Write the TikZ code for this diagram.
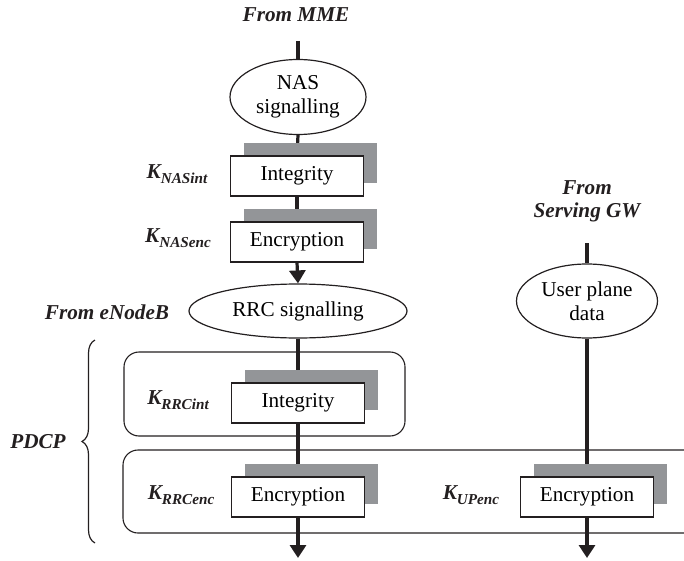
\documentclass[tikz,border=0pt]{standalone}
\usepackage{fontspec}
\setmainfont{Liberation Serif}
\usetikzlibrary{shapes.geometric,arrows.meta,shadows,decorations.pathreplacing,backgrounds}
\definecolor{shadowgray}{RGB}{147,149,152}
\definecolor{ink}{RGB}{35,31,32}
\newcommand{\keylabel}[1]{\textbf{\textit{K\raisebox{-2.4pt}{\fontsize{7.6}{8}\selectfont #1}}}}
\begin{document}
\begin{tikzpicture}[x=0.5pt,y=-0.5pt,
  font=\fontsize{10.6}{12.2}\selectfont,
  proc/.style={draw=ink, line width=0.65pt, fill=white, minimum width=66.5pt,
    minimum height=20pt, inner sep=0pt,
    drop shadow={shadow xshift=6.5pt, shadow yshift=6.5pt, fill=shadowgray, opacity=1}},
  msg/.style={ellipse, draw=ink, line width=0.6pt, fill=white, inner sep=0pt, align=center},
  flow/.style={draw=ink, line width=1.6pt},
  flowarrow/.style={flow, -{Triangle[width=8pt,length=6.5pt]}},
  src/.style={font=\fontsize{10.6}{11.6}\selectfont\bfseries\itshape, align=center, text=ink},
  keytext/.style={text=ink, inner sep=0pt},
  group/.style={draw=ink, line width=0.55pt, rounded corners=7.5pt, inner sep=0pt},
  bracestyle/.style={draw=ink, line width=0.6pt, decorate,
    decoration={brace, amplitude=6.5pt}}
]
\useasboundingbox (0,0) rectangle (684,561);

% source labels
\node[src] (mme) at (296,15) {From MME};
\node[src] (sgw) at (587,201) {From\\Serving GW};
\node[src] (enb) at (107,312) {From eNodeB};
\node[src] (pdcp) at (38,442) {PDCP};

% message ellipses
\node[msg, minimum width=68pt, minimum height=37.5pt] (nas) at (298,97) {NAS\\signalling};
\node[msg, minimum width=109pt, minimum height=27pt] (rrc) at (298,311) {RRC signalling};
\node[msg, minimum width=70.5pt, minimum height=37pt] (up) at (587,301) {User plane\\data};

% PDCP groups
\node[group, minimum width=140.5pt, minimum height=42pt] (intgrp) at (264.5,394) {};
\node[group, minimum width=288.5pt, minimum height=41.5pt] (encgrp) at (411.5,491.5) {};

% processing boxes
\node[proc] (nasint) at (297,176) {Integrity};
\node[proc] (nasenc) at (297,242) {Encryption};
\node[proc] (rrcint) at (298,403) {Integrity};
\node[proc] (rrcenc) at (298,497) {Encryption};
\node[proc] (upenc) at (587,497) {Encryption};

% key labels
\node[keytext] (knasint) at (177,174) {\keylabel{NASint}};
\node[keytext] (knasenc) at (178,238) {\keylabel{NASenc}};
\node[keytext] (krrcint) at (178,400) {\keylabel{RRCint}};
\node[keytext] (krrcenc) at (181,495) {\keylabel{RRCenc}};
\node[keytext] (kupenc) at (471,495) {\keylabel{UPenc}};

% brace
\draw[bracestyle] (95,543) -- (95,340);

% free ends
\coordinate (mmeend) at (298,41);
\coordinate (sgwend) at (587,243);
\coordinate (out1) at (298,558);
\coordinate (out2) at (587,558);

\begin{pgfonlayer}{background}
\draw[flow] (mmeend) -- (nas.north);
\draw[flow] (nas.south) -- (nasint.north);
\draw[flow] (nasint.south) -- (nasenc.north);
\draw[flowarrow] (nasenc.south) -- (rrc.north);
\draw[flow] (rrc.south) -- (rrcint.north);
\draw[flow] (rrcint.south) -- (rrcenc.north);
\draw[flowarrow] (rrcenc.south) -- (out1);
\draw[flow] (sgwend) -- (up.north);
\draw[flow] (up.south) -- (upenc.north);
\draw[flowarrow] (upenc.south) -- (out2);
\end{pgfonlayer}
\end{tikzpicture}
\end{document}
